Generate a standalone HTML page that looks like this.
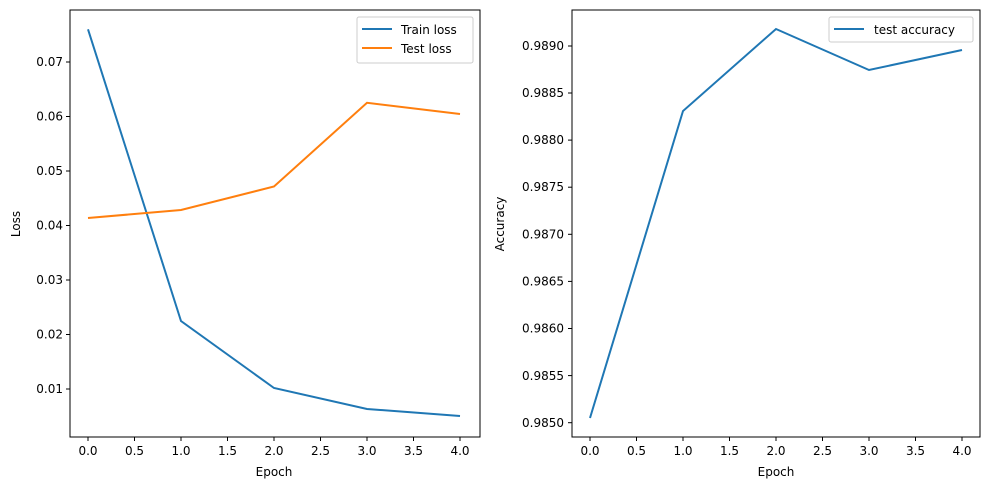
<!DOCTYPE html>
<html><head><style>body{margin:0;background:#fff}svg{display:block;font-family:"DejaVu Sans","Liberation Sans",sans-serif}</style></head><body>
<svg width="989" height="490" viewBox="0 0 989 490" xmlns="http://www.w3.org/2000/svg">
<g font-size="12" fill="#000">
<g stroke="#000" stroke-width="1">
<line x1="88" y1="437" x2="88" y2="441"/><line x1="134.5" y1="437" x2="134.5" y2="441"/><line x1="181" y1="437" x2="181" y2="441"/><line x1="227.5" y1="437" x2="227.5" y2="441"/><line x1="274" y1="437" x2="274" y2="441"/><line x1="320.5" y1="437" x2="320.5" y2="441"/><line x1="367" y1="437" x2="367" y2="441"/><line x1="413.5" y1="437" x2="413.5" y2="441"/><line x1="460" y1="437" x2="460" y2="441"/>
<line x1="66" y1="62" x2="70" y2="62"/><line x1="66" y1="116.5" x2="70" y2="116.5"/><line x1="66" y1="171" x2="70" y2="171"/><line x1="66" y1="225.5" x2="70" y2="225.5"/><line x1="66" y1="280" x2="70" y2="280"/><line x1="66" y1="334.5" x2="70" y2="334.5"/><line x1="66" y1="389" x2="70" y2="389"/>
</g>
<g text-anchor="middle"><text x="88" y="455">0.0</text><text x="134.5" y="455">0.5</text><text x="181" y="455">1.0</text><text x="227.5" y="455">1.5</text><text x="274" y="455">2.0</text><text x="320.5" y="455">2.5</text><text x="367" y="455">3.0</text><text x="413.5" y="455">3.5</text><text x="460" y="455">4.0</text>
<text x="274" y="476">Epoch</text></g>
<g text-anchor="end"><text x="63" y="66">0.07</text><text x="63" y="120.5">0.06</text><text x="63" y="175">0.05</text><text x="63" y="229.5">0.04</text><text x="63" y="284">0.03</text><text x="63" y="338.5">0.02</text><text x="63" y="393">0.01</text></g>
<text transform="translate(20,224) rotate(-90)" text-anchor="middle">Loss</text>
<polyline fill="none" stroke="#1f77b4" stroke-width="2" points="88,29.3 181,321 274,388 367,409 460,416"/>
<polyline fill="none" stroke="#ff7f0e" stroke-width="2" points="88,218 181,210 274,186.5 367,102.8 460,114"/>
<rect x="70" y="10" width="410" height="427" fill="none" stroke="#000" stroke-width="1"/>
<rect x="357" y="17" width="116" height="46" rx="2" fill="#fff" fill-opacity="0.8" stroke="#ccc"/>
<line x1="362" y1="29" x2="392" y2="29" stroke="#1f77b4" stroke-width="2"/>
<line x1="362" y1="48" x2="392" y2="48" stroke="#ff7f0e" stroke-width="2"/>
<text x="401" y="34">Train loss</text><text x="401" y="53">Test loss</text>

<g stroke="#000" stroke-width="1">
<line x1="590" y1="437" x2="590" y2="441"/><line x1="636.5" y1="437" x2="636.5" y2="441"/><line x1="683" y1="437" x2="683" y2="441"/><line x1="729.5" y1="437" x2="729.5" y2="441"/><line x1="776" y1="437" x2="776" y2="441"/><line x1="822.5" y1="437" x2="822.5" y2="441"/><line x1="869" y1="437" x2="869" y2="441"/><line x1="915.5" y1="437" x2="915.5" y2="441"/><line x1="962" y1="437" x2="962" y2="441"/>
<line x1="568" y1="422.7" x2="572" y2="422.7"/><line x1="568" y1="375.6" x2="572" y2="375.6"/><line x1="568" y1="328.5" x2="572" y2="328.5"/><line x1="568" y1="281.4" x2="572" y2="281.4"/><line x1="568" y1="234.3" x2="572" y2="234.3"/><line x1="568" y1="187.2" x2="572" y2="187.2"/><line x1="568" y1="140.1" x2="572" y2="140.1"/><line x1="568" y1="93" x2="572" y2="93"/><line x1="568" y1="46" x2="572" y2="46"/>
</g>
<g text-anchor="middle"><text x="590" y="455">0.0</text><text x="636.5" y="455">0.5</text><text x="683" y="455">1.0</text><text x="729.5" y="455">1.5</text><text x="776" y="455">2.0</text><text x="822.5" y="455">2.5</text><text x="869" y="455">3.0</text><text x="915.5" y="455">3.5</text><text x="962" y="455">4.0</text>
<text x="776" y="476">Epoch</text></g>
<g text-anchor="end"><text x="564" y="427">0.9850</text><text x="564" y="380">0.9855</text><text x="564" y="332.5">0.9860</text><text x="564" y="285.5">0.9865</text><text x="564" y="238.5">0.9870</text><text x="564" y="191">0.9875</text><text x="564" y="144">0.9880</text><text x="564" y="97">0.9885</text><text x="564" y="50">0.9890</text></g>
<text transform="translate(504,224) rotate(-90)" text-anchor="middle">Accuracy</text>
<polyline fill="none" stroke="#1f77b4" stroke-width="2" points="590,418 683,111 776,29 869,70 962,50"/>
<rect x="572" y="10" width="408" height="427" fill="none" stroke="#000" stroke-width="1"/>
<rect x="829" y="17" width="144" height="25" rx="2" fill="#fff" fill-opacity="0.8" stroke="#ccc"/>
<line x1="834" y1="29" x2="864" y2="29" stroke="#1f77b4" stroke-width="2"/>
<text x="874" y="34">test accuracy</text>
</g>
</svg>
</body></html>
